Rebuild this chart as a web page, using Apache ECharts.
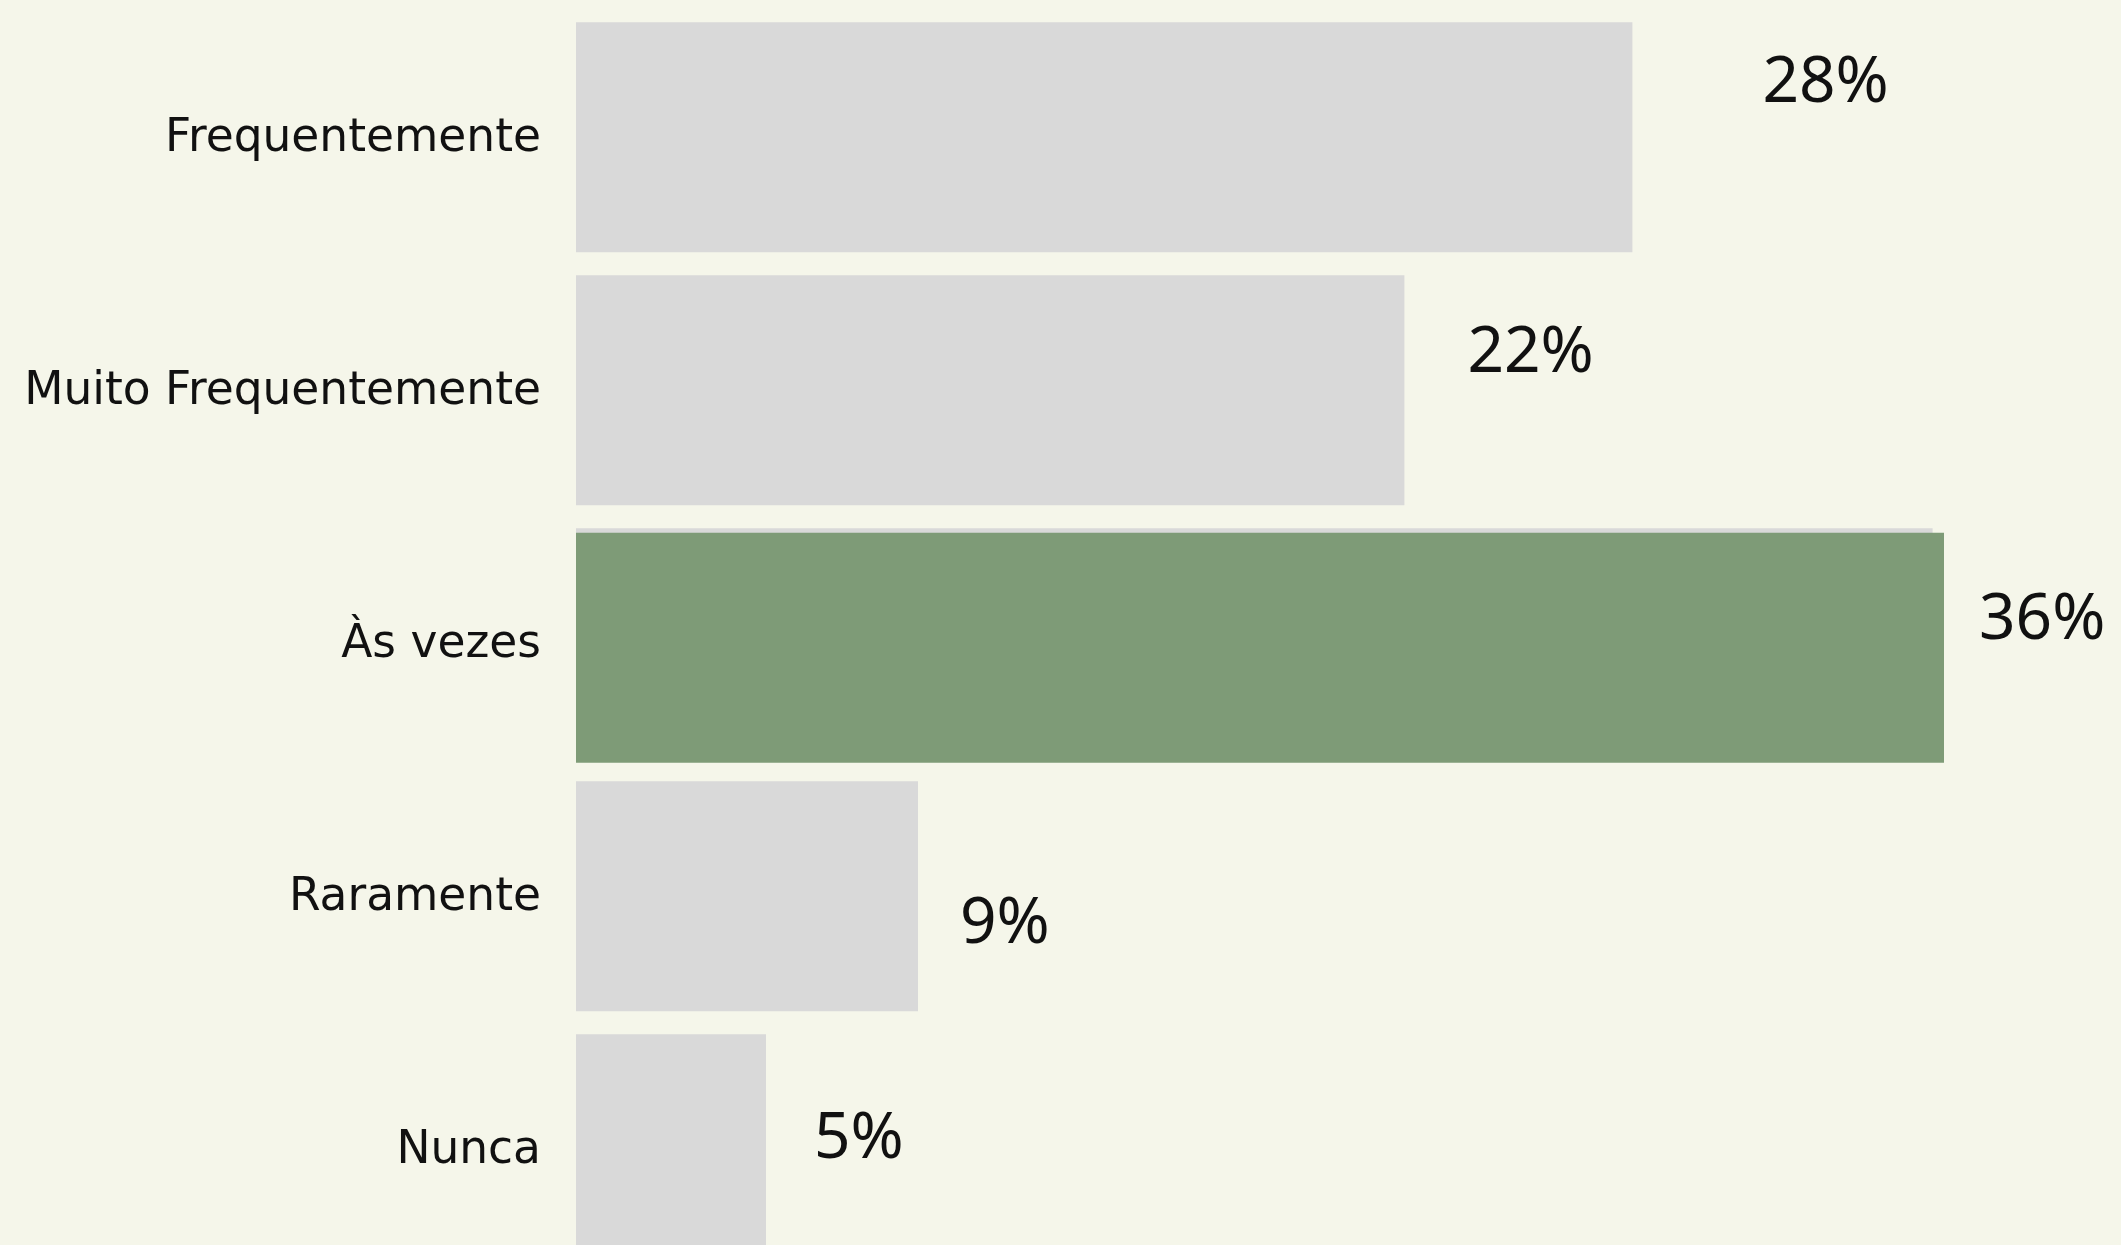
<!DOCTYPE html>
<html>
<head>
<meta charset="utf-8">
<script src="https://cdn.jsdelivr.net/npm/echarts@6/dist/echarts.min.js"></script>
<style>
  html, body { margin: 0; padding: 0; background: #f5f6ea; }
  #chart { width: 2121px; height: 1245px; }
</style>
</head>
<body>
<div id="chart"></div>
<script>
// data
const categories = ['Frequentemente', 'Muito Frequentemente', 'Às vezes', 'Raramente', 'Nunca']
const shares = [27.8, 21.8, 35.7, 9, 5]
const highlightIndex = 2
const highlightValue = 36
const valueLabels = ['28%', '22%', '36%', '9%', '5%']

// label placement next to each bar end (dx, dy)
const labelOffsets = [[130, -53], [63, -36], [35, -27], [42, 29], [48, -9]]

const chart = echarts.init(document.getElementById('chart'))

const valueLabel = (i) => ({
  show: true,
  position: 'right',
  distance: 0,
  offset: labelOffsets[i],
  formatter: valueLabels[i],
  color: '#111',
  fontSize: 64,
  fontFamily: '"Noto Sans", sans-serif'
})

chart.setOption({
  backgroundColor: '#f5f6ea',
  animation: false,
  grid: { left: 576, top: 13, width: 1520, height: 1265, outerBoundsMode: 'none' },
  xAxis: {
    type: 'value',
    min: 0,
    max: 40,
    show: false
  },
  yAxis: {
    type: 'category',
    data: categories,
    inverse: true,
    axisLine: { show: false },
    axisTick: { show: false },
    axisLabel: {
      margin: 35,
      color: '#111',
      fontSize: 45.5,
      fontFamily: '"DejaVu Sans", sans-serif'
    }
  },
  series: [
    {
      type: 'bar',
      barWidth: 230,
      barGap: '-98%',
      itemStyle: { color: '#d9d9d9' },
      data: shares.map((v, i) => ({
        value: v,
        label: i === highlightIndex ? { show: false } : valueLabel(i)
      }))
    },
    {
      type: 'bar',
      barWidth: 230,
      itemStyle: { color: '#7e9b77' },
      data: categories.map((c, i) => i === highlightIndex
        ? { value: highlightValue, label: valueLabel(i) }
        : '-')
    }
  ]
})
</script>
</body>
</html>
